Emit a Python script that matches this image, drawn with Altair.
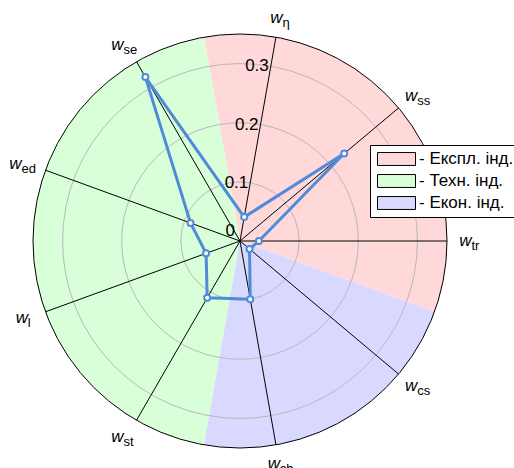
import math
import altair as alt
import pandas as pd

# ---- data ----
axis_subs = ["tr", "ss", "η", "se", "ed", "l", "st", "cb", "cs"]
axis_angles = [0, 40, 80, 120, 160, 200, 240, 280, 320]  # degrees, counter-clockwise from east
values = [0.032, 0.23, 0.041, 0.32, 0.089, 0.061, 0.111, 0.10, 0.021]

group_names = ["- Експл. інд.", "- Техн. інд.", "- Екон. інд."]
group_start = [-20, 100, 260]
group_end = [100, 260, 340]
group_colors = ["#ffd9d9", "#d9ffd9", "#d9d9ff"]

ring_values = [0.1, 0.2, 0.3]
tick_values = [0.0, 0.1, 0.2, 0.3]
tick_labels = ["0", "0.1", "0.2", "0.3"]
tick_angle = 80

R_MAX = 0.35
PLOT_R_PX = 207          # radius of the plot in pixels (layout)
LABEL_R_PX = 219         # radius at which axis labels are anchored (layout)

FONT = "Liberation Sans"
LINE_COLOR = "#4f8bd9"

# ---- tables ----
sectors = pd.DataFrame({"group": group_names, "a0": group_start, "a1": group_end, "r": R_MAX})
rings = pd.DataFrame({"r": ring_values})
outer = pd.DataFrame({"r": [R_MAX]})
spokes = pd.DataFrame({"ang": axis_angles, "r": R_MAX})
n = len(values)
series = pd.DataFrame({"ang": axis_angles + [axis_angles[0]],
                       "v": values + [values[0]],
                       "ord": list(range(n + 1))})
pts = pd.DataFrame({"ang": axis_angles, "v": values})
ticks = pd.DataFrame({"v": tick_values, "lab": tick_labels, "ang": tick_angle})
labels = pd.DataFrame({"ang": axis_angles, "w": "w", "sub": axis_subs})

xs = alt.Scale(domain=[-R_MAX, R_MAX], nice=False, zero=False)
ys = alt.Scale(domain=[-R_MAX, R_MAX], nice=False, zero=False)
rs = alt.Scale(type="linear", domain=[0, R_MAX], zero=True)


def cart(chart, rfield):
    return chart.transform_calculate(
        px=f"datum.{rfield} * cos(datum.ang * PI / 180)",
        py=f"datum.{rfield} * sin(datum.ang * PI / 180)",
    )


X = alt.X("px:Q", scale=xs, axis=None)
Y = alt.Y("py:Q", scale=ys, axis=None)

sector_layer = alt.Chart(sectors).mark_arc(stroke=None).transform_calculate(
    t0="(90 - datum.a1) * PI / 180",
    t1="(90 - datum.a0) * PI / 180",
).encode(
    theta=alt.Theta("t0:Q", scale=None, stack=False),
    theta2="t1:Q",
    radius=alt.Radius("r:Q", scale=rs),
    color=alt.Color(
        "group:N",
        scale=alt.Scale(domain=group_names, range=group_colors),
        legend=alt.Legend(
            title=None, orient="none", legendX=337, legendY=111,
            symbolType="M-1,-0.34H1V0.34H-1Z", symbolSize=1444, symbolOffset=2,
            symbolStrokeColor="black", symbolStrokeWidth=1, symbolOpacity=1,
            labelFont=FONT, labelFontSize=17, labelColor="black", labelOffset=3,
            strokeColor="black", fillColor="white", padding=5, rowPadding=4,
            clipHeight=18, cornerRadius=0,
        ),
    ),
)

ring_layer = alt.Chart(rings).mark_arc(fillOpacity=0, stroke="#b8b8b8", strokeWidth=1).transform_calculate(
    t0="0", t1="2 * PI"
).encode(
    theta=alt.Theta("t0:Q", scale=None, stack=False),
    theta2="t1:Q",
    radius=alt.Radius("r:Q", scale=rs),
)

outer_layer = alt.Chart(outer).mark_arc(fillOpacity=0, stroke="black", strokeWidth=1).transform_calculate(
    t0="0", t1="2 * PI"
).encode(
    theta=alt.Theta("t0:Q", scale=None, stack=False),
    theta2="t1:Q",
    radius=alt.Radius("r:Q", scale=rs),
)

spoke_layer = alt.Chart(spokes).mark_rule(color="black", strokeWidth=1).transform_calculate(
    px="datum.r * cos(datum.ang * PI / 180)",
    py="datum.r * sin(datum.ang * PI / 180)",
    cx="0", cy="0",
).encode(
    x=alt.X("cx:Q", scale=xs, axis=None),
    y=alt.Y("cy:Q", scale=ys, axis=None),
    x2="px:Q",
    y2="py:Q",
)

line_layer = cart(alt.Chart(series), "v").mark_line(color=LINE_COLOR, strokeWidth=3).encode(
    x=X, y=Y, order="ord:Q"
)

point_layer = cart(alt.Chart(pts), "v").mark_point(
    shape="circle", filled=True, fill="white", stroke=LINE_COLOR, strokeWidth=2, size=36, opacity=1
).encode(x=X, y=Y)

tick_layer = cart(alt.Chart(ticks), "v").transform_filter("datum.v > 0").mark_text(
    font=FONT, fontSize=17, align="right", baseline="middle", dx=-2, color="black"
).encode(x=X, y=Y, text="lab:N")

zero_layer = cart(alt.Chart(ticks), "v").transform_filter("datum.v == 0").mark_text(
    font=FONT, fontSize=17, align="right", baseline="middle", dx=-5, dy=-10, color="black"
).encode(x=X, y=Y, text="lab:N")

# label block (w + subscript) is placed so that the side of its box facing the
# centre touches a circle of radius LABEL_R_PX; positions of "w" are then derived.
K = R_MAX / PLOT_R_PX
label_pos = alt.Chart(labels).transform_calculate(
    c="cos(datum.ang * PI / 180)",
    s="sin(datum.ang * PI / 180)",
    subw="6.5 * length(datum.sub)",
).transform_calculate(
    bw="13 + datum.subw",
).transform_calculate(
    px=f"{K} * ({LABEL_R_PX} * datum.c + datum.c * datum.bw / 2 - datum.subw / 2)",
    py=f"{K} * ({LABEL_R_PX} * datum.s + datum.s * 7)",
)

w_layer = label_pos.mark_text(
    font=FONT, fontSize=17, fontStyle="italic", align="center", baseline="middle", color="black"
).encode(x=X, y=Y, text="w:N")

sub_layer = label_pos.mark_text(
    font=FONT, fontSize=13, align="left", baseline="middle", dx=6, dy=5, color="black"
).encode(x=X, y=Y, text="sub:N")

chart = alt.layer(
    sector_layer, ring_layer, spoke_layer, outer_layer,
    line_layer, point_layer, tick_layer, zero_layer, w_layer, sub_layer,
).properties(
    width=414, height=414,
    autosize=alt.AutoSizeParams(type="none"),
    padding={"left": 33, "top": 34, "right": 67, "bottom": 20},
).configure_view(stroke=None)

chart.save("out.html", embed_options={"renderer": "svg", "actions": False})
